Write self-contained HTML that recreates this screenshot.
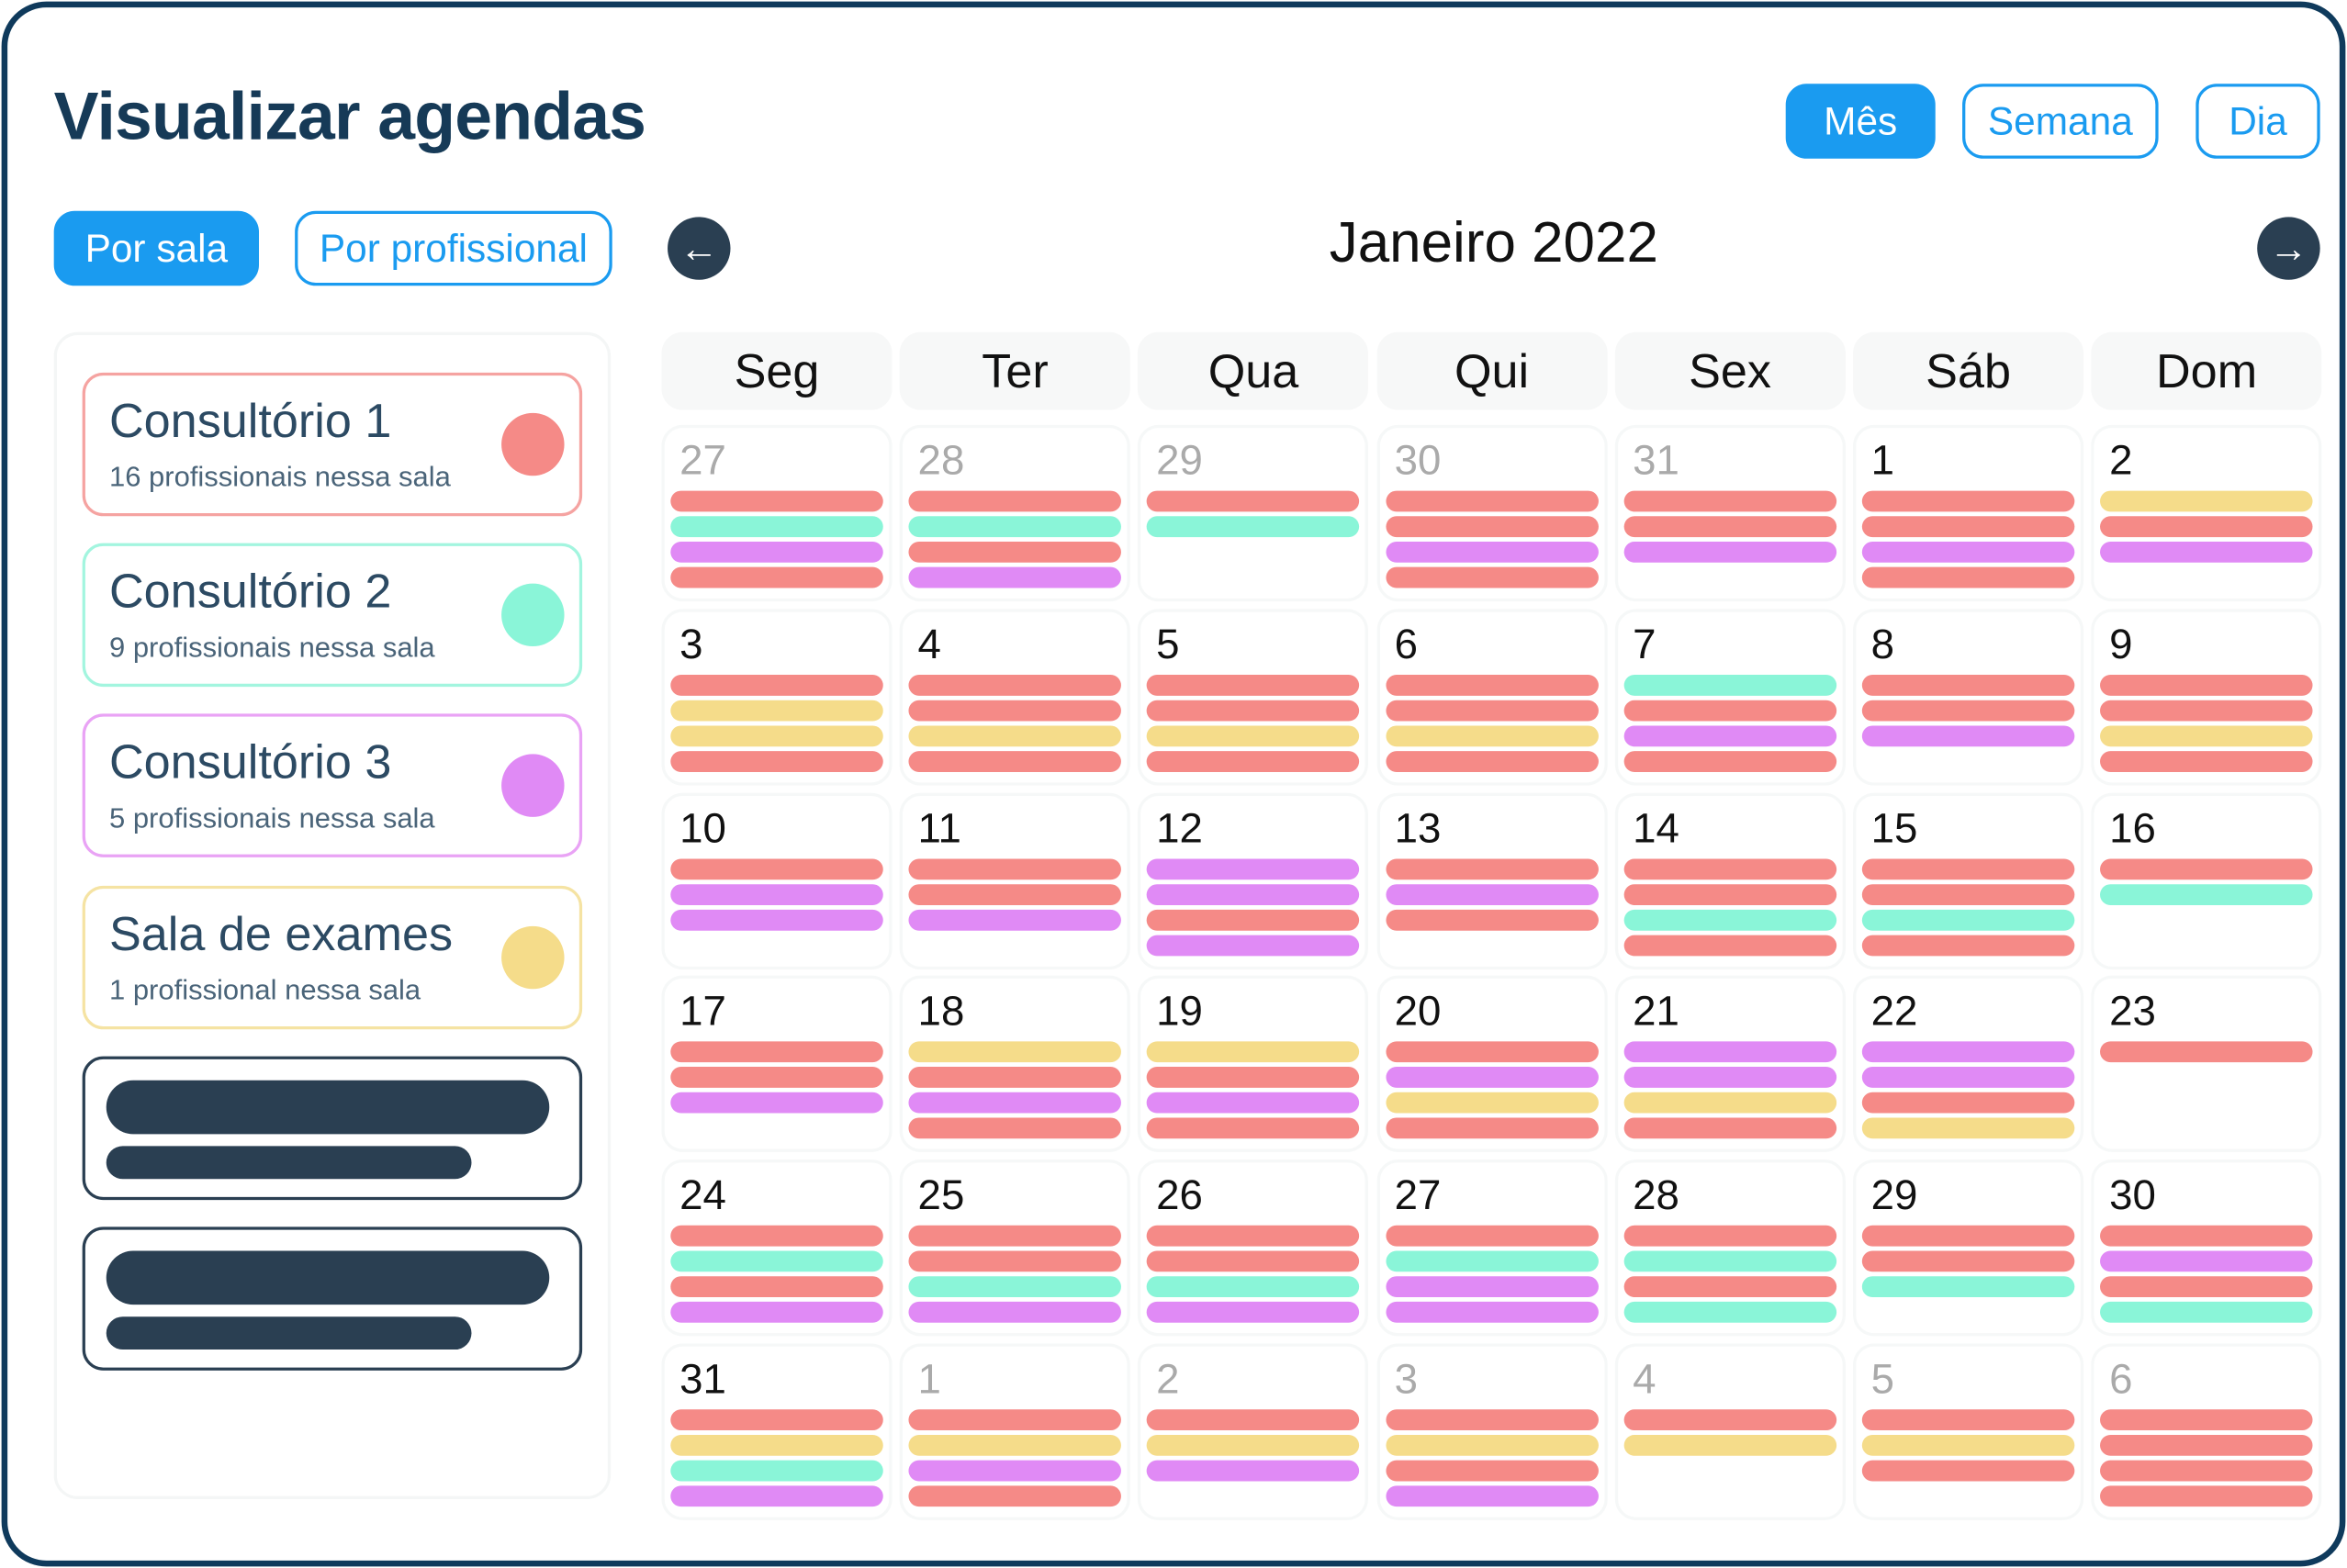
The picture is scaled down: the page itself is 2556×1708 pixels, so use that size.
<!DOCTYPE html>
<html><head><meta charset="utf-8"><style>
html,body{margin:0;padding:0;background:#fff;}
body{width:2556px;height:1708px;overflow:hidden;font-family:"Liberation Sans",sans-serif;}
#stage{position:absolute;left:0;top:0;width:1568px;height:1048px;transform:scale(1.63010,1.62977);transform-origin:0 0;}
.abs{position:absolute;box-sizing:border-box;}
.frame{left:1px;top:1px;width:1566px;height:1046px;border:4px solid #0f3a5c;border-radius:30px;}
.title{left:36px;top:52px;font-size:45px;font-weight:bold;color:#163a57;letter-spacing:-0.5px;}
.btn{border:2px solid #1a9bf0;border-radius:14px;color:#1a9bf0;font-size:26px;display:flex;align-items:center;justify-content:center;background:#fff;}
.btn.on{background:#1a9bf0;color:#fff;}
.arrow{width:42px;height:42px;border-radius:50%;background:#2a3f52;color:#fff;font-size:26px;display:flex;align-items:center;justify-content:center;font-weight:bold;}
.month{left:800px;top:142px;width:396px;text-align:center;font-size:38px;color:#111;}
.panel{left:36px;top:222px;width:372px;height:780px;border:2px solid #f4f6f6;border-radius:16px;}
.card{left:55px;width:334px;height:96px;border:2px solid;border-radius:14px;background:#fff;}
.card .n{position:absolute;left:16px;top:12px;font-size:32px;color:#2c4a63;}
.card .s{position:absolute;left:16px;top:58px;font-size:19px;color:#4a6479;}
.card .d{position:absolute;left:278px;top:25px;width:42px;height:42px;border-radius:50%;}
.skel{left:55px;width:334px;height:96px;border:2px solid #2a3f52;border-radius:14px;background:#fff;}
.skel .a{position:absolute;left:14px;top:14px;width:296px;height:36px;border-radius:18px;background:#2a3f52;}
.skel .b{position:absolute;left:14px;top:58px;width:244px;height:22px;border-radius:11px;background:#2a3f52;}
.hdr{height:52px;width:154px;border-radius:14px;background:#f7f8f8;font-size:32px;color:#111;display:flex;align-items:center;justify-content:center;}
.cell{width:154px;height:118px;border-radius:14px;border:2px solid #f6f8f8;}
.num{position:absolute;font-size:28px;color:#111;}
.num.g{color:#aaa;}
.bar{position:absolute;height:14px;border-radius:7px;}
</style></head><body>
<div id="stage">
<div class="abs frame"></div>
<div class="abs title">Visualizar agendas</div>
<div class="abs btn on" style="left:1193px;top:56px;width:100px;height:50px">Mês</div>
<div class="abs btn" style="left:1311px;top:56px;width:131px;height:50px">Semana</div>
<div class="abs btn" style="left:1467px;top:56px;width:83px;height:50px">Dia</div>
<div class="abs btn on" style="left:36px;top:141px;width:137px;height:50px">Por sala</div>
<div class="abs btn" style="left:197px;top:141px;width:212px;height:50px">Por profissional</div>
<div class="abs arrow" style="left:446px;top:145px">←</div>
<div class="abs arrow" style="left:1508px;top:145px">→</div>
<div class="abs month">Janeiro 2022</div>
<div class="abs panel"></div>
<div class="abs card" style="top:249px;border-color:#f5a3a1"><div class="n">Consultório 1</div><div class="s">16 profissionais nessa sala</div><div class="d" style="background:#f58a87"></div></div>
<div class="abs card" style="top:363px;border-color:#a3f5df"><div class="n">Consultório 2</div><div class="s">9 profissionais nessa sala</div><div class="d" style="background:#8af5d8"></div></div>
<div class="abs card" style="top:477px;border-color:#e9a3f5"><div class="n">Consultório 3</div><div class="s">5 profissionais nessa sala</div><div class="d" style="background:#e08af5"></div></div>
<div class="abs card" style="top:592px;border-color:#f5e3a3"><div class="n">Sala de exames</div><div class="s">1 profissional nessa sala</div><div class="d" style="background:#f5dc8a"></div></div>
<div class="abs skel" style="top:706px"><div class="a"></div><div class="b"></div></div>
<div class="abs skel" style="top:820px"><div class="a"></div><div class="b"></div></div>
<div id="cal"></div>
</div>
<script>
const weekdays=["Seg","Ter","Qua","Qui","Sex","Sáb","Dom"];
const dayNumbers=[27,28,29,30,31,1,2,3,4,5,6,7,8,9,10,11,12,13,14,15,16,17,18,19,20,21,22,23,24,25,26,27,28,29,30,31,1,2,3,4,5,6];
const outOfMonth=[1,1,1,1,1,0,0,0,0,0,0,0,0,0,0,0,0,0,0,0,0,0,0,0,0,0,0,0,0,0,0,0,0,0,0,0,1,1,1,1,1,1];
const events=["rtpr","rtrp","rt","rrpr","rrp","rrpr","yrp",
"ryyr","rryr","rryr","rryr","trpr","rrp","rryr",
"rpp","rrp","pprp","rpr","rrtr","rrtr","rt",
"rrp","yrpr","yrpr","rpyr","ppyr","ppry","r",
"rtrp","rrtp","rrtp","rtpp","rtrt","rrt","rprt",
"rytp","rypr","ryp","ryrp","ry","ryr","rrrr"];
const colors={r:"#f58a87",t:"#8af5d8",p:"#e08af5",y:"#f5dc8a"};
const cal=document.getElementById('cal');
const colX=i=>442+i*159.2;
const rowY=j=>284+j*122.8;
weekdays.forEach((w,i)=>{
  const h=document.createElement('div');
  h.className='abs hdr';h.style.left=colX(i)+'px';h.style.top='222px';h.textContent=w;
  
  
  cal.appendChild(h);
});
dayNumbers.forEach((d,k)=>{
  const i=k%7,j=Math.floor(k/7);
  const c=document.createElement('div');
  c.className='abs cell';c.style.left=colX(i)+'px';c.style.top=rowY(j)+'px';
  
  
  const n=document.createElement('div');
  n.className='num'+(outOfMonth[k]?' g':'');n.style.left='10px';n.style.top='6px';n.textContent=d;
  
  
  c.appendChild(n);
  events[k].split('').forEach((e,b)=>{
    const bar=document.createElement('div');
    bar.className='bar';bar.style.left='4px';bar.style.width='142px';
    bar.style.top=(42+b*17)+'px';bar.style.background=colors[e];
    
    
    c.appendChild(bar);
  });
  cal.appendChild(c);
});
</script>
</body></html>
